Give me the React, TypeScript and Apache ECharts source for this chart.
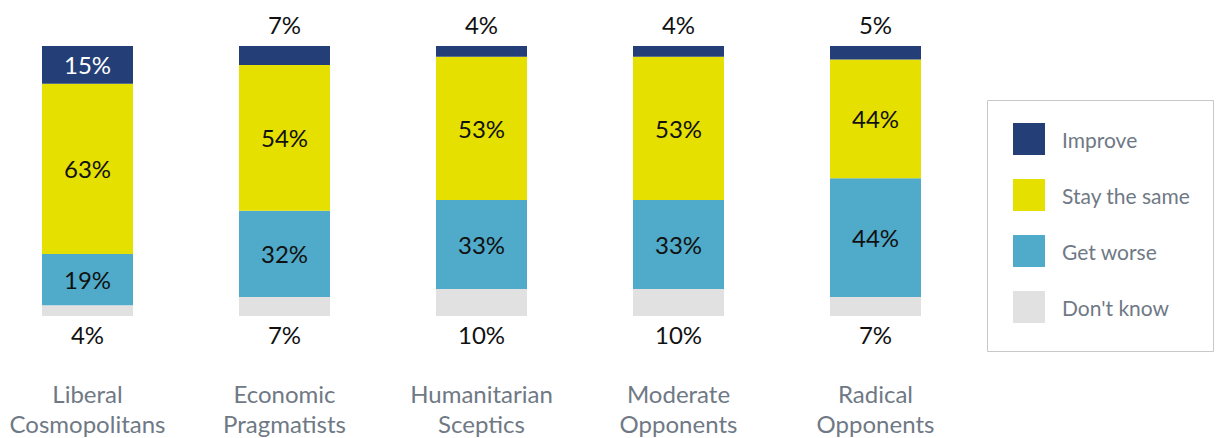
import React, { useEffect, useRef } from "react";
import * as echarts from "echarts";

const categories = [
  "Liberal\nCosmopolitans",
  "Economic\nPragmatists",
  "Humanitarian\nSceptics",
  "Moderate\nOpponents",
  "Radical\nOpponents",
];
const improve = [15, 7, 4, 4, 5];
const staySame = [63, 54, 53, 53, 44];
const getWorse = [19, 32, 33, 33, 44];
const dontKnow = [4, 7, 10, 10, 7];

const FONT = "Lato, 'Noto Sans', sans-serif";

export default function App() {
  const ref = useRef<HTMLDivElement>(null);
  useEffect(() => {
    if (!ref.current) return;
    const chart = echarts.init(ref.current, undefined, { renderer: "svg" });
    const baseLabel = {
      show: true,
      formatter: "{c}%",
      fontFamily: FONT,
      fontSize: 24,
      color: "#111",
    };
    const mk = (vals: number[], fn: (v: number) => any) =>
      vals.map((v) => ({ value: v, label: fn(v) }));
    chart.setOption({
      animation: false,
      grid: { left: 87.5, right: 1216 - 875.5, top: 46, bottom: 122 },
      xAxis: {
        type: "category",
        data: categories,
        boundaryGap: false,
        axisLine: { show: false },
        axisTick: { show: false },
        axisLabel: {
          interval: 0,
          hideOverlap: false,
          margin: 62,
          fontFamily: FONT,
          fontSize: 24,
          lineHeight: 30,
          color: "#6f7985",
        },
      },
      yAxis: { type: "value", min: 0, max: 100, show: false },
      legend: {
        orient: "vertical",
        left: 1008,
        top: 118,
        icon: "rect",
        itemWidth: 32,
        itemHeight: 32,
        itemGap: 24,
        data: ["Improve", "Stay the same", "Get worse", "Don't know"],
        textStyle: {
          fontFamily: FONT,
          fontSize: 21,
          color: "#6f7985",
          padding: [0, 0, 0, 12],
        },
      },
      graphic: [
        {
          type: "rect",
          shape: { x: 987.5, y: 100.5, width: 226, height: 251 },
          style: { fill: "none", stroke: "#c8c8c8", lineWidth: 1 },
        },
      ],
      series: [
        {
          name: "Don't know",
          type: "bar",
          stack: "s",
          barWidth: 91,
          itemStyle: { color: "#e1e1e1" },
          label: { ...baseLabel, position: "bottom", distance: 6 },
          data: dontKnow,
        },
        {
          name: "Get worse",
          type: "bar",
          stack: "s",
          barWidth: 91,
          itemStyle: { color: "#4fabc9" },
          label: { ...baseLabel, position: "inside" },
          data: getWorse,
        },
        {
          name: "Stay the same",
          type: "bar",
          stack: "s",
          barWidth: 91,
          itemStyle: { color: "#e5e000" },
          label: { ...baseLabel, position: "inside" },
          data: staySame,
        },
        {
          name: "Improve",
          type: "bar",
          stack: "s",
          barWidth: 91,
          itemStyle: { color: "#243f77" },
          label: { ...baseLabel },
          data: mk(improve, (v) =>
            v >= 10
              ? { position: "inside", color: "#fff" }
              : { position: "top", distance: 10 }
          ),
        },
      ],
    });
    return () => chart.dispose();
  }, []);
  return (
    <div
      ref={ref}
      style={{ position: "fixed", left: 0, top: 0, width: 1216, height: 438, background: "#fff" }}
    />
  );
}
